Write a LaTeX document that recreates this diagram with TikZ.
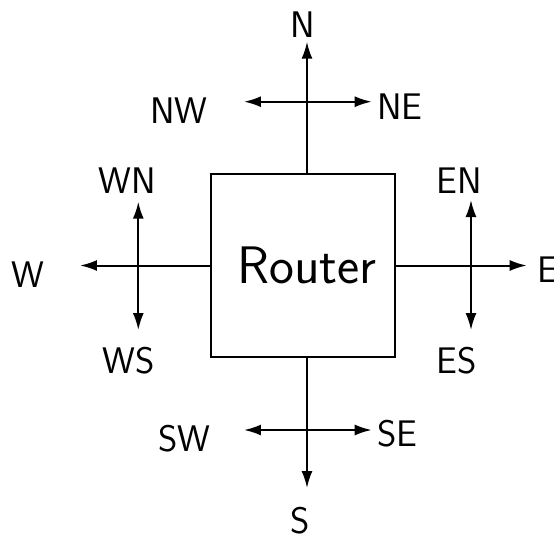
\documentclass[tikz,border=0pt]{standalone}
\usetikzlibrary{arrows.meta}

\begin{document}
\begin{tikzpicture}[x=0.5pt, y=-0.5pt, line width=1pt,
  font=\sffamily\fontsize{18.5}{22}\selectfont, >={Latex[length=8.5pt,width=5.5pt]},
  dir/.style={inner sep=0pt},
  routerbox/.style={draw, minimum width=92pt, minimum height=91.4pt, inner sep=0pt}]
  \useasboundingbox (0,0) rectangle (554,537);
  \node[routerbox, label={[font=\sffamily\fontsize{26.4}{32}\selectfont, xshift=2.1pt]center:Router}]
       (router) at (302.8,265.5) {};
  \coordinate (nTip) at (307,41.7);
  \coordinate (sTip) at (307,488);
  \coordinate (wTip) at (80,265.5);
  \coordinate (eTip) at (526.7,265.5);
  \coordinate (nwTip) at (244,101.7);
  \coordinate (neTip) at (371.7,101.7);
  \coordinate (swTip) at (244,430);
  \coordinate (seTip) at (371.7,430);
  \coordinate (wnTip) at (138.3,201.7);
  \coordinate (wsTip) at (138.3,330);
  \coordinate (enTip) at (471,200);
  \coordinate (esTip) at (471,330);
  \draw[->] (router.north -| nTip) -- (nTip);
  \draw[->] (router.south -| sTip) -- (sTip);
  \draw[->] (router.west) -- (wTip);
  \draw[->] (router.east) -- (eTip);
  \draw[<->] (nwTip) -- (neTip);
  \draw[<->] (swTip) -- (seTip);
  \draw[<->] (wnTip) -- (wsTip);
  \draw[<->] (enTip) -- (esTip);
  \node[dir] (n) at (302.5,25) {N};
  \node[dir] (s) at (300,521) {S};
  \node[dir] (w) at (28.3,274.5) {W};
  \node[dir] (e) at (547.6,270) {E};
  \node[dir] (nw) at (179,110.5) {NW};
  \node[dir] (ne) at (400,106.7) {NE};
  \node[dir] (sw) at (184.5,439) {SW};
  \node[dir] (se) at (397.5,434) {SE};
  \node[dir] (wn) at (127.5,180.5) {WN};
  \node[dir] (ws) at (129,360.5) {WS};
  \node[dir] (en) at (459.5,180.5) {EN};
  \node[dir] (es) at (457,360.5) {ES};
\end{tikzpicture}
\end{document}
